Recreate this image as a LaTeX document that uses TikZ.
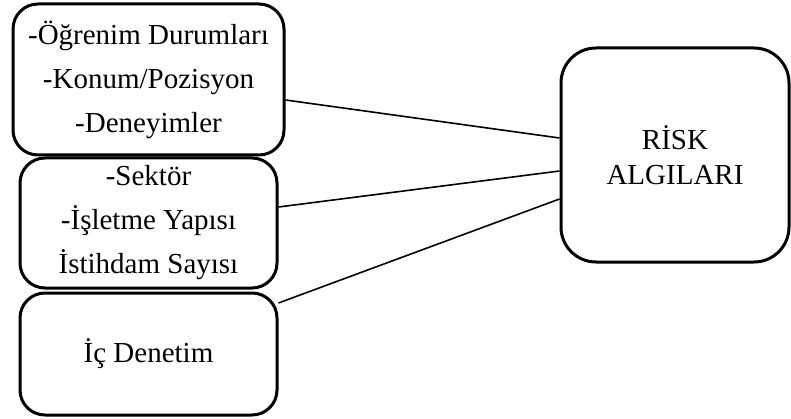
\documentclass[tikz,border=0pt]{standalone}
\usepackage{fontspec}
\setmainfont{Liberation Serif}
\tikzset{
  factorbox/.style={draw,line width=3pt,rounded corners=25pt,align=center,inner sep=0pt,font=\fontsize{29}{44}\selectfont},
  link/.style={line width=1.6pt}
}
\begin{document}
\begin{tikzpicture}[x=1pt,y=1pt]
\useasboundingbox (0,0) rectangle (791,418);
\node[factorbox,minimum width=271pt,minimum height=151pt] (ogrenim) at (148.5,338.5) {-Öğrenim Durumları\\-Konum/Pozisyon\\-Deneyimler};
\node[factorbox,minimum width=257pt,minimum height=130pt] (sektor) at (148.5,195) {-Sektör\\-İşletme Yapısı\\İstihdam Sayısı};
\node[factorbox,minimum width=257pt,minimum height=122pt] (denetim) at (148.5,64) {İç Denetim};
\node[factorbox,rounded corners=35pt,font=\fontsize{29}{35}\selectfont,minimum width=228pt,minimum height=214pt] (risk) at (675,263) {RİSK\\ALGILARI};
\draw[link] ([yshift=-20.5pt]ogrenim.east) -- ([yshift=17pt]risk.west);
\draw[link] ([yshift=16pt]sektor.east) -- ([yshift=-16pt]risk.west);
\draw[link] ([yshift=51pt]denetim.east) -- ([yshift=-44pt]risk.west);
\end{tikzpicture}
\end{document}
